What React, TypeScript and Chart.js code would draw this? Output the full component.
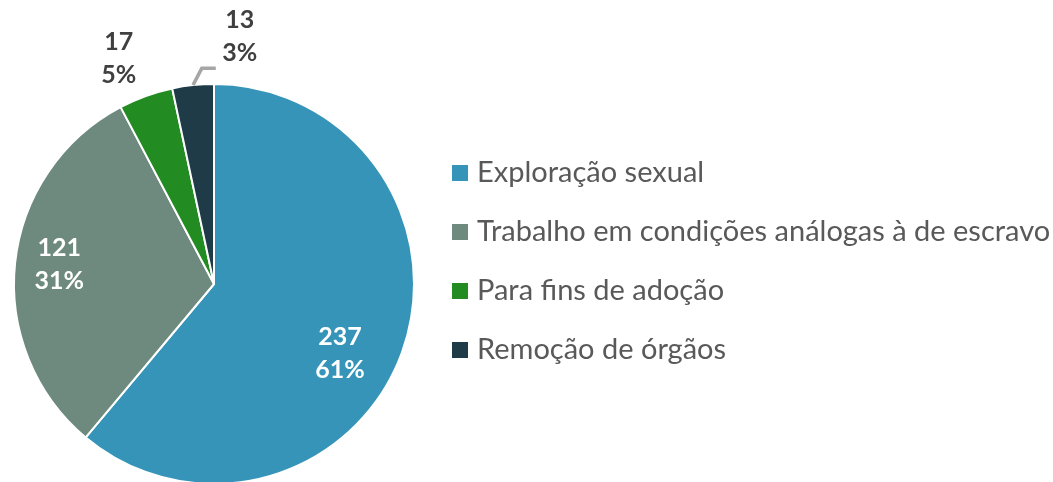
import React, { useEffect, useRef } from "react";
import { Chart, registerables } from "chart.js";

Chart.register(...registerables);

const categories = [
  "Exploração sexual",
  "Trabalho em condições análogas à de escravo",
  "Para fins de adoção",
  "Remoção de órgãos",
];
const values = [237, 121, 17, 13];
const percentLabels = ["61%", "31%", "5%", "3%"];
const colors = ["#3594B8", "#6E8A7E", "#228B22", "#1F3B48"];

// label placement: angle shift (deg) from slice middle, radius factor, text colour, leader line
const labelPlacement = [
  { shift: 9, rf: 0.72, color: "#FFFFFF", leader: false },
  { shift: 1, rf: 0.78, color: "#FFFFFF", leader: false },
  { shift: -3, rf: 1.22, color: "#404040", leader: false },
  { shift: 12, rf: 1.24, color: "#404040", leader: true },
];

const FONT = "Lato, 'Noto Sans', sans-serif";

const labelPlugin = {
  id: "sliceLabels",
  afterDatasetsDraw(chart: any) {
    const ctx = chart.ctx;
    const meta = chart.getDatasetMeta(0);
    meta.data.forEach((arc: any, i: number) => {
      const p = labelPlacement[i];
      const { x, y, startAngle, endAngle, outerRadius } = arc.getProps(
        ["x", "y", "startAngle", "endAngle", "outerRadius"],
        true
      );
      const mid = (startAngle + endAngle) / 2;
      const a = mid + (p.shift * Math.PI) / 180;
      const lx = x + Math.cos(a) * outerRadius * p.rf;
      const ly = y + Math.sin(a) * outerRadius * p.rf;
      ctx.save();
      if (p.leader) {
        const sx = x + Math.cos(mid) * outerRadius;
        const sy = y + Math.sin(mid) * outerRadius;
        ctx.strokeStyle = "#A6A6A6";
        ctx.lineWidth = 3.5;
        ctx.beginPath();
        ctx.moveTo(sx, sy);
        ctx.lineTo(lx - 38, ly + 31);
        ctx.lineTo(lx - 24, ly + 31);
        ctx.stroke();
      }
      ctx.fillStyle = p.color;
      ctx.font = `bold 25px ${FONT}`;
      ctx.textAlign = "center";
      ctx.textBaseline = "middle";
      ctx.fillText(String(values[i]), lx, ly - 17);
      ctx.fillText(percentLabels[i], lx, ly + 16);
      ctx.restore();
    });
  },
};

const legendPlugin = {
  id: "sideLegend",
  afterDraw(chart: any) {
    const ctx = chart.ctx;
    const labels = chart.data.labels as string[];
    const bg = chart.data.datasets[0].backgroundColor as string[];
    ctx.save();
    labels.forEach((lab, i) => {
      const cy = 173 + i * 59;
      ctx.fillStyle = bg[i];
      ctx.fillRect(452, cy - 8, 16, 16);
      ctx.fillStyle = "#595959";
      ctx.font = `29px ${FONT}`;
      ctx.textAlign = "left";
      ctx.textBaseline = "middle";
      ctx.fillText(lab, 477, cy);
    });
    ctx.restore();
  },
};

export default function App() {
  const ref = useRef<HTMLCanvasElement>(null);
  useEffect(() => {
    if (!ref.current) return;
    const chart = new Chart(ref.current, {
      type: "pie",
      data: {
        labels: categories,
        datasets: [
          {
            data: values,
            backgroundColor: colors,
            borderColor: "#FFFFFF",
            borderWidth: 2,
          },
        ],
      },
      options: {
        responsive: false,
        animation: false,
        layout: { padding: { left: 13, top: 83, right: 638, bottom: 15 } },
        plugins: {
          legend: { display: false },
          tooltip: { enabled: false },
        },
      },
      plugins: [labelPlugin, legendPlugin],
    });
    return () => chart.destroy();
  }, []);
  return (
    <div
      style={{
        position: "fixed",
        left: 0,
        top: 0,
        width: 1053,
        height: 482,
        overflow: "hidden",
        background: "#FFFFFF",
      }}
    >
      <canvas ref={ref} width={1053} height={500} style={{ display: "block" }} />
    </div>
  );
}
